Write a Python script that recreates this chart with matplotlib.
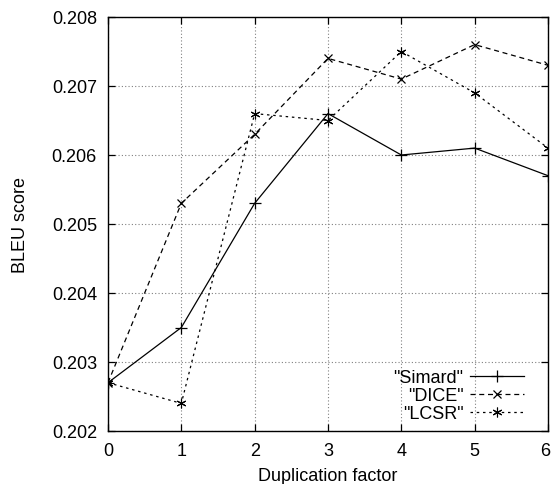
import numpy as np
import matplotlib.pyplot as plt
from matplotlib.transforms import ScaledTranslation

plt.rcParams['font.family'] = ['Liberation Sans', 'DejaVu Sans']

# Data
dup = [0, 1, 2, 3, 4, 5, 6]
simard = [0.2027, 0.2035, 0.2053, 0.2066, 0.2060, 0.2061, 0.2057]
dice = [0.2027, 0.2053, 0.2063, 0.2074, 0.2071, 0.2076, 0.2073]
lcsr = [0.2027, 0.2024, 0.2066, 0.2065, 0.2075, 0.2069, 0.2061]

yticks = [0.202, 0.203, 0.204, 0.205, 0.206, 0.207, 0.208]

fig = plt.figure(figsize=(5.52, 4.85), dpi=100)
ax = fig.add_axes([108/552, 53/485, 440/552, 414/485])

ax.plot(dup, simard, color='black', lw=0.9, ls='-', marker='+', ms=8, mew=0.9, label='"Simard"')
ax.plot(dup, dice, color='black', lw=0.9, ls=(0, (4, 3)), marker='x', ms=5.5, mew=0.9, label='"DICE"')
ax.plot(dup, lcsr, color='black', lw=0.9, ls=(0, (2, 3)), marker=(6, 2, 0), ms=7, mew=0.8, label='"LCSR"')

ax.set_xlim(0, 6)
ax.set_ylim(0.202, 0.208)
ax.set_xticks(dup)
ax.set_yticks(yticks)
ax.set_yticklabels(['%.3f' % v for v in yticks])
ax.tick_params(direction='in', top=True, right=True, length=5, width=0.9, labelsize=13, pad=8)
ax.grid(True, color='#808080', ls=(0, (1, 2)), lw=0.8)
for s in ax.spines.values():
    s.set_linewidth(1.0)

# nudge the last x label so it stays inside the figure
last = ax.get_xticklabels()[-1]
last.set_transform(last.get_transform() + ScaledTranslation(-3/100, 0, fig.dpi_scale_trans))

ax.set_xlabel('Duplication factor', fontsize=13, labelpad=6)
ax.set_ylabel('BLEU score', fontsize=13, labelpad=16)

leg = ax.legend(loc='lower right', bbox_to_anchor=(0.966, 0.0), frameon=False,
                markerfirst=False, fontsize=13,
                handlelength=3.0, labelspacing=0.05, borderaxespad=0.3, borderpad=0.2,
                handletextpad=0.35)
for t in leg.get_texts():
    t.set_ha('right')

fig.savefig('out.png', dpi=100)
